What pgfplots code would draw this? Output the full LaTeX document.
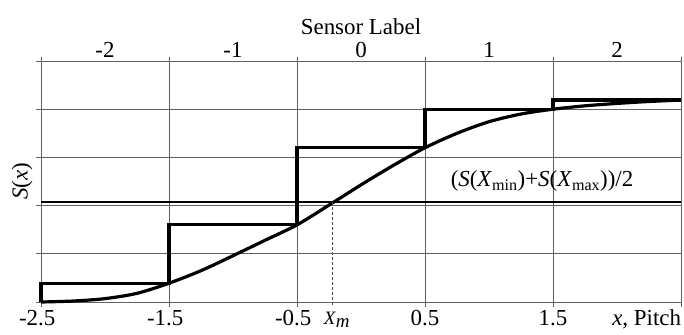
\documentclass[border=0pt]{standalone}
\usepackage{fontspec}
\setmainfont{Liberation Serif}
\usepackage{pgfplots}
\pgfplotsset{compat=1.18}
\begin{document}
\begin{tikzpicture}
\pgfplotsset{
  common/.style={
    at={(0,0)}, anchor=south west,
    scale only axis, width=640bp, height=241bp,
    xmin=-2.5, xmax=2.5, ymin=0, ymax=5,
    ticklabel style={font=\fontsize{23}{27}\selectfont},
    label style={font=\fontsize{23}{27}\selectfont},
  }
}
\begin{axis}[common,
  xtick={-2.5,-1.5,-0.5,0.5,1.5,2.5},
  xticklabels={\llap{-}2.5,\llap{-}1.5,\llap{-}0.5,0.5,1.5,\llap{\textit{x}, Pitch}},
  ytick={0,1,2,3,4,5}, yticklabels={},
  ytick pos=left,
  tick align=outside,
  major tick length=4.5bp,
  grid=major,
  grid style={black!62, line width=1bp},
  axis line style={black!62, line width=1bp},
  every tick/.style={black!62, line width=1bp},
  ylabel={\textit{S}(\textit{x})},
  every axis y label/.style={at={(rel axis cs:0,0.5)}, xshift=-19bp, rotate=90, anchor=center, font=\fontsize{23}{27}\selectfont},
  clip=false,
]
\addplot[black, line width=2.2bp] coordinates {(-2.5,2.075) (2.5,2.075)};
\addplot[black, line width=3.2bp, smooth] coordinates {
(-2.5,0) (-2.25,0.02) (-2.0,0.07) (-1.75,0.18) (-1.5,0.39) (-1.25,0.65)
(-1.0,0.96) (-0.75,1.28) (-0.5,1.6) (-0.25,2.01) (0,2.43) (0.25,2.83)
(0.5,3.2) (0.75,3.5) (1.0,3.74) (1.25,3.9) (1.5,4.0) (1.75,4.07)
(2.0,4.12) (2.25,4.16) (2.5,4.19)};
\addplot[black, line width=3.2bp, line join=miter] coordinates {
(-2.5,0) (-2.5,0.39) (-1.5,0.39) (-1.5,1.6) (-0.5,1.6) (-0.5,3.2)
(0.5,3.2) (0.5,4.0) (1.5,4.0) (1.5,4.19) (2.5,4.19)};
\addplot[black!70, line width=0.8bp, dash pattern=on 3bp off 2bp] coordinates {(-0.22,2.075) (-0.22,-0.07)};
\node[anchor=base, font=\fontsize{23}{27}\selectfont] at (axis cs:1.414,2.39)
  {(\textit{S}(\textit{X}\textsubscript{min})+\textit{S}(\textit{X}\textsubscript{max}))/2};
\node[anchor=north, inner sep=0pt, font=\fontsize{19}{21}\selectfont] at (axis cs:-0.19,-0.207)
  {\textit{X}\raisebox{-3bp}{\textit{m}}};
\end{axis}
\begin{axis}[common,
  axis x line*=top, axis y line=none,
  x axis line style={draw=none},
  xtick={-2,-1,0,1,2},
  xticklabels={-2,-1,0,1,2},
  major tick length=0pt,
  xtick style={draw=none},
  xlabel={Sensor Label},
]
\end{axis}
\pgfresetboundingbox
\path[use as bounding box] (-41bp,-33bp) rectangle (643bp,302bp);
\end{tikzpicture}
\end{document}
